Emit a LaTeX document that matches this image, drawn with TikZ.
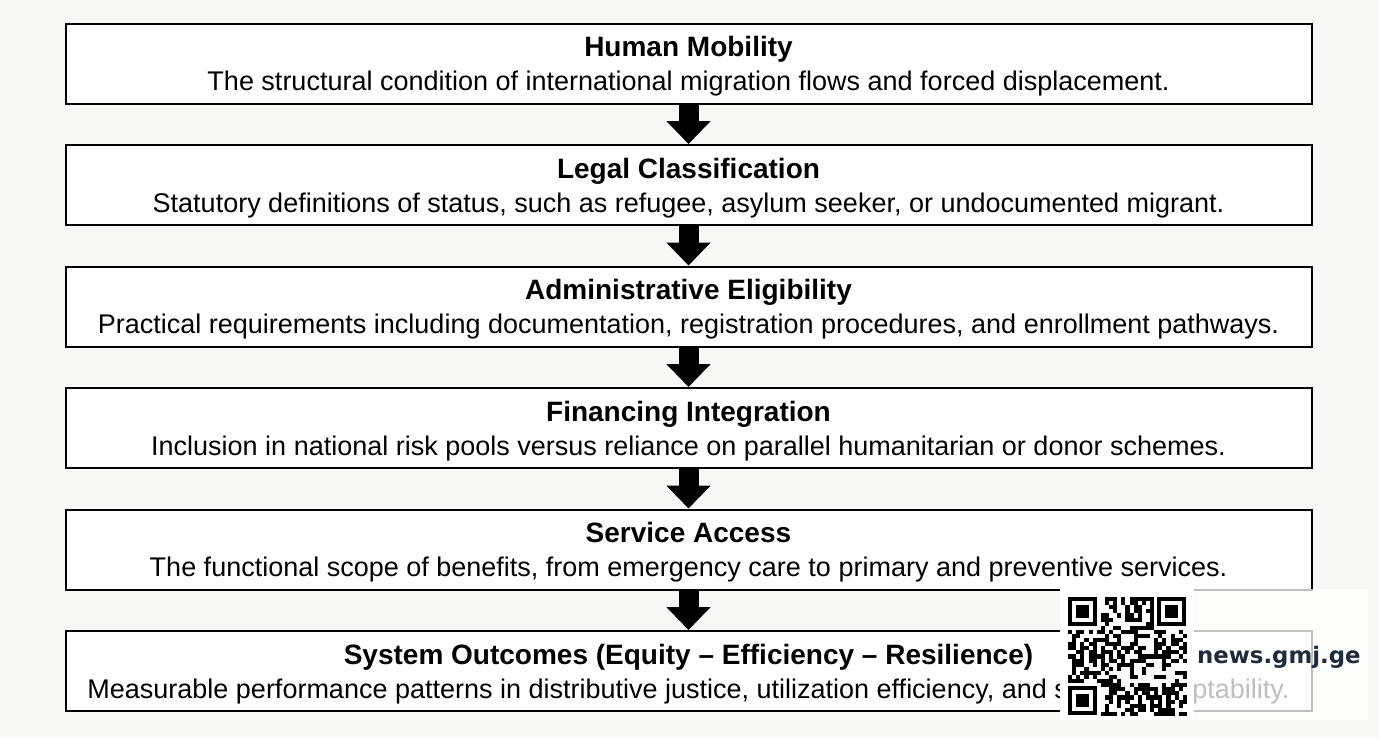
\documentclass[tikz,border=0pt]{standalone}
\usepackage{fontspec}
\setmainfont{Liberation Sans}
\newfontfamily\wmfont{DejaVu Sans}
\usetikzlibrary{arrows.meta, positioning}
\definecolor{pagebg}{HTML}{F8F8F6}
\definecolor{wmnavy}{HTML}{1F2A3C}

\newcommand{\stagetitle}[1]{{\fontsize{28}{34}\selectfont\bfseries\rule{0pt}{26.5pt}#1}}

\tikzset{
  stage/.style={draw=black, line width=2pt, fill=white, minimum width=1246pt,
    minimum height=80pt, inner sep=0pt, align=center,
    font=\fontsize{27}{34}\selectfont},
  flow/.style={line width=20pt, -{Triangle[width=43pt, length=23pt]}},
  qrmod/.style={fill=black}
}

\begin{document}
\begin{tikzpicture}[x=1pt, y=-1pt, node distance=39.5pt]
  \fill[pagebg] (0,0) rectangle (1379,737);
  \useasboundingbox (0,0) rectangle (1379,737);

  \node[stage] (mobility) at (688.5,63.5)
    {\stagetitle{Human Mobility}\\The structural condition of international migration flows and forced displacement.};
  \node[stage, below=of mobility] (legal)
    {\stagetitle{Legal Classification}\\Statutory definitions of status, such as refugee, asylum seeker, or undocumented migrant.};
  \node[stage, below=of legal] (eligibility)
    {\stagetitle{Administrative Eligibility}\\Practical requirements including documentation, registration procedures, and enrollment pathways.};
  \node[stage, below=of eligibility] (financing)
    {\stagetitle{Financing Integration}\\Inclusion in national risk pools versus reliance on parallel humanitarian or donor schemes.};
  \node[stage, below=of financing] (access)
    {\stagetitle{Service Access}\\The functional scope of benefits, from emergency care to primary and preventive services.};
  \node[stage, below=of access] (outcomes)
    {\stagetitle{System Outcomes (Equity -- Efficiency -- Resilience)}\\Measurable performance patterns in distributive justice, utilization efficiency, and system adaptability.};

  \path (mobility) edge[flow] (legal)
        (legal) edge[flow] (eligibility)
        (eligibility) edge[flow] (financing)
        (financing) edge[flow] (access)
        (access) edge[flow] (outcomes);

  % watermark
  \fill[white, opacity=0.75] (1060,589) rectangle (1368,720);
  \fill[white] (1060,589) rectangle (1194,720);
  \pgfmathsetseed{11}
  \foreach \i in {0,...,28}{
    \foreach \j in {0,...,28}{
      \pgfmathtruncatemacro\skipit{(\i<8 && \j<8) || (\i>20 && \j<8) || (\i<8 && \j>20)}
      \pgfmathtruncatemacro\bit{rnd<0.5}
      \ifnum\skipit=0 \ifnum\bit=1
        \fill[qrmod] (1068+\i*4.1, 597+\j*4.1) rectangle ++(4.1,4.1);
      \fi\fi
    }
  }
  \foreach \cx/\cy in {1068/597, 1157.2/597, 1068/686.2}{
    \fill[qrmod] (\cx,\cy) rectangle ++(28.7,28.7);
    \fill[white] (\cx+4.1,\cy+4.1) rectangle ++(20.5,20.5);
    \fill[qrmod] (\cx+8.2,\cy+8.2) rectangle ++(12.3,12.3);
  }
  \node[font=\wmfont\bfseries\fontsize{22.8}{26}\selectfont, text=wmnavy,
    anchor=west, inner sep=0pt] (wmtext) at (1197,657) {news.gmj.ge};
\end{tikzpicture}
\end{document}
